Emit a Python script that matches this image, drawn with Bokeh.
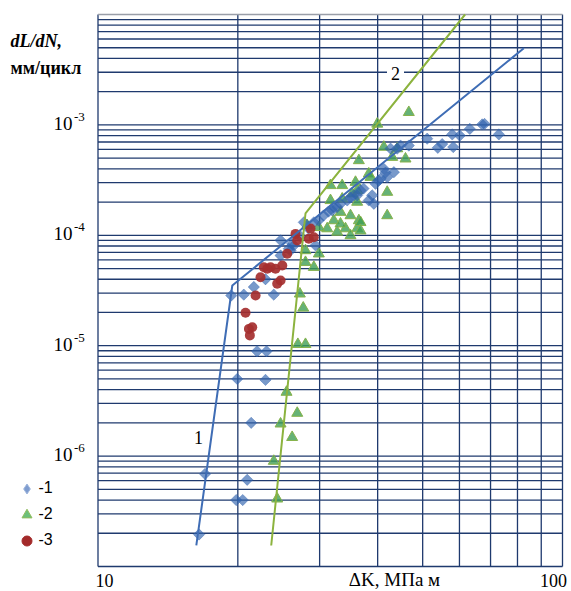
import math
from bokeh.plotting import figure
from bokeh.models import Label, Legend, LegendItem, Range1d
from bokeh.embed import file_html
from bokeh.resources import INLINE

# ---------------- data ----------------
# series 1 (diamonds): dK [MPa m^0.5], crack growth rate [mm/cycle]
s1_dk = [16.5, 17.0, 20.95, 19.84, 20.49, 21.37, 19.94, 22.94, 22.0, 23.06,
         19.36, 20.6, 23.9, 22.94, 21.65, 24.72, 27.74, 29.4, 25.75, 26.18,
         29.15, 31.93, 32.73, 32.18, 33.27, 34.4, 35.54, 36.74, 38.28, 39.58,
         40.57, 41.24, 42.64, 43.35, 41.94, 44.8, 46.68, 39.25, 44.08, 51.13,
         53.89, 55.08, 57.89, 58.18, 60.11, 63.16, 67.16, 67.94, 72.94, 24.72,
         25.97, 26.41, 27.29, 28.40, 29.84, 30.59, 31.35, 34.96, 36.14, 37.29,
         38.93, 40.17, 41.59]
s1_rate = [1.95e-7, 6.9e-7, 6.1e-7, 4.0e-7, 4.0e-7, 2.0e-6, 5.0e-6, 4.9e-6, 8.9e-6, 8.9e-6,
           2.85e-5, 2.9e-5, 2.9e-5, 4.0e-5, 3.4e-5, 9.0e-5, 1.31e-4, 8.1e-5, 7.55e-5, 8.4e-5,
           1.31e-4, 1.68e-4, 1.8e-4, 1.8e-4, 1.93e-4, 2.07e-4, 2.3e-4, 2.55e-4, 2.07e-4, 2.93e-4,
           3.25e-4, 4.0e-4, 6.1e-4, 3.73e-4, 3.36e-4, 6.5e-4, 6.5e-4, 1.93e-4, 6.1e-4, 7.5e-4,
           6.2e-4, 6.7e-4, 8.2e-4, 6.3e-4, 8.0e-4, 9.2e-4, 1.01e-3, 1.02e-3, 8.2e-4, 6.56e-5,
           7.28e-5, 8.09e-5, 9.75e-5, 1.15e-4, 1.36e-4, 1.51e-4, 1.64e-4, 2.2e-4, 2.3e-4, 2.65e-4,
           2.3e-4, 3.13e-4, 3.7e-4]

# series 2 (triangles)
s2_dk = [24.31, 23.9, 24.72, 26.18, 26.85, 25.46, 26.93, 27.97, 27.2, 27.66,
         27.97, 27.97, 29.15, 29.88, 31.15, 32.73, 34.1, 34.96, 36.44, 36.14,
         32.18, 33.27, 31.66, 31.66, 33.55, 35.26, 36.14, 36.44, 38.28, 33.27,
         34.96, 46.68, 39.92, 41.24, 45.92, 35.84, 38.61, 41.94, 41.94, 44.08,
         42.99, 36.74, 36.74, 36.14, 33.55, 29.88, 28.2]
s2_rate = [4.1e-7, 9.0e-7, 1.96e-6, 1.48e-6, 2.45e-6, 3.8e-6, 1.03e-5, 1.03e-5, 2.95e-5, 2.2e-5,
           7.28e-5, 5.7e-5, 5.14e-5, 6.8e-5, 1.15e-4, 1.07e-4, 1.15e-4, 9.95e-5, 1.36e-4, 1.15e-4,
           1.36e-4, 1.27e-4, 2.07e-4, 2.83e-4, 2.83e-4, 2.38e-4, 2.55e-4, 4.76e-4, 3.61e-4, 1.62e-4,
           1.51e-4, 1.3e-3, 1.02e-3, 6.3e-4, 4.93e-4, 3.03e-4, 3.36e-4, 2.46e-4, 1.51e-4, 6.1e-4,
           5.1e-4, 1.31e-4, 1.1e-4, 2.0e-4, 2.14e-4, 1.18e-4, 1.23e-4]

# series 3 (circles)
s3_dk = [21.84, 20.78, 21.13, 21.48, 21.23, 22.38, 22.75, 23.52, 24.11, 24.93,
         24.72, 24.31, 25.54, 26.85, 26.62, 28.68, 29.15, 28.43, 23.14]
s3_rate = [2.85e-5, 1.99e-5, 1.42e-5, 1.47e-5, 1.24e-5, 4.17e-5, 5.14e-5, 5.14e-5, 4.97e-5, 5.33e-5,
           3.9e-5, 3.64e-5, 6.8e-5, 8.97e-5, 1.03e-4, 1.15e-4, 9.6e-5, 9.3e-5, 4.97e-5]

# fitted curves 1 and 2 (break points)
fit1_dk = [16.28, 19.46, 82.55]
fit1_rate = [1.55e-7, 3.51e-5, 4.95e-3]
fit2_dk = [23.6, 27.97, 61.7]
fit2_rate = [1.55e-7, 1.576e-4, 1.0e-2]

curve_labels = ["1", "2"]
curve_label_dk = [16.46, 43.7]
curve_label_rate = [1.47e-6, 2.94e-3]

legend_labels = ["-1", "-2", "-3"]

x_min, x_max = 10, 100            # plot-area limits
y_min, y_max = 1e-7, 1e-2
x_tick_vals = [10, 100]
x_tick_text = ["10", "100"]
y_tick_vals = [1e-3, 1e-4, 1e-5, 1e-6]
y_tick_base = ["10", "10", "10", "10"]
y_tick_exp = ["-3", "-4", "-5", "-6"]

x_title = "\u0394K, \u041c\u041f\u0430 \u043c"
y_title_1 = "dL/dN,"
y_title_2 = "\u043c\u043c/\u0446\u0438\u043a\u043b"

# ---------------- layout geometry (pixels) ----------------
W, H = 571, 591
PA_LEFT, PA_RIGHT, PA_TOP, PA_BOTTOM = 97.5, 562.0, 14.0, 566.0
GRID = "#1F3A6E"
SERIF = "Liberation Serif"

lx0, lx1 = math.log10(x_min), math.log10(x_max)
ly0, ly1 = math.log10(y_min), math.log10(y_max)
ppd_x = (PA_RIGHT - PA_LEFT) / (lx1 - lx0)
ppd_y = (PA_BOTTOM - PA_TOP) / (ly1 - ly0)
xr = Range1d(10 ** (lx0 - PA_LEFT / ppd_x), 10 ** (lx1 + (W - PA_RIGHT) / ppd_x))
yr = Range1d(10 ** (ly0 - (H - PA_BOTTOM) / ppd_y), 10 ** (ly1 + PA_TOP / ppd_y))

p = figure(width=W, height=H, x_axis_type="log", y_axis_type="log",
           x_range=xr, y_range=yr, output_backend="svg", toolbar_location=None,
           min_border=0, min_border_left=0, min_border_right=0,
           min_border_top=0, min_border_bottom=0)
p.axis.visible = False
p.grid.visible = False
p.outline_line_color = None
p.background_fill_color = "white"
p.border_fill_color = "white"

# grid of the plot area (every 1..9 x decade)
xgrid_ticks = [m * 10 for m in range(1, 10)] + [100]
ygrid_ticks = [m * 10.0 ** e for e in range(-7, -2) for m in range(1, 10)]
p.segment(x0=xgrid_ticks, y0=[y_min] * len(xgrid_ticks), x1=xgrid_ticks, y1=[y_max] * len(xgrid_ticks),
          line_color=GRID, line_width=1.3)
p.segment(x0=[x_min] * len(ygrid_ticks), y0=ygrid_ticks, x1=[x_max] * len(ygrid_ticks), y1=ygrid_ticks,
          line_color=GRID, line_width=1.3)
p.segment(x0=[x_min], y0=[y_max], x1=[x_max], y1=[y_max], line_color="#9A9EA8", line_width=1.3)

# markers
p.scatter(s2_dk, s2_rate, marker="triangle", size=11,
          fill_color="#3E9F55", fill_alpha=0.8, line_color="#86B24A", line_width=1)
p.scatter(s1_dk, s1_rate, marker="square", angle=math.pi / 4, size=8,
          fill_color="#2F62AE", fill_alpha=0.65, line_color="#2F62AE", line_alpha=0.4)
p.scatter(s3_dk, s3_rate, marker="circle", size=10,
          fill_color="#A52F2F", fill_alpha=0.92, line_color=None)

# fitted lines
p.line(fit1_dk, fit1_rate, line_color="#3F6DB5", line_width=2)
p.line(fit2_dk, fit2_rate, line_color="#8CB33E", line_width=2)

# legend swatch renderers (hidden in the plot, only their legend swatch is shown)
lg1 = p.scatter(s1_dk, s1_rate, marker="diamond", visible=False,
                fill_color="#7E9CCF", line_color="#9FB6DD", line_width=1)
lg2 = p.scatter(s2_dk, s2_rate, marker="triangle", visible=False,
                fill_color="#6CC07A", line_color="#93BD5C", line_width=1)
lg3 = p.scatter(s3_dk, s3_rate, marker="circle", visible=False,
                fill_color="#A32A2A", line_color="#A32A2A", line_width=1)

# curve labels
p.add_layout(Label(x=curve_label_dk[0], y=curve_label_rate[0], text=curve_labels[0],
                   text_align="center", text_baseline="middle",
                   text_font=SERIF, text_font_size="18px", text_color="black"))
p.add_layout(Label(x=curve_label_dk[1], y=curve_label_rate[1], text=curve_labels[1],
                   text_align="center", text_baseline="middle",
                   text_font=SERIF, text_font_size="18px", text_color="black",
                   background_fill_color="white", padding=4))

# y tick labels (10 with superscript exponent)
for v, b, e in zip(y_tick_vals, y_tick_base, y_tick_exp):
    p.add_layout(Label(x=72, x_units="screen", y=v, y_units="data", text=b,
                       text_align="right", text_baseline="middle", y_offset=1.5,
                       text_font=SERIF, text_font_size="19px", text_color="black"))
    p.add_layout(Label(x=73.5, x_units="screen", y=v, y_units="data", text=e,
                       text_align="left", text_baseline="middle", y_offset=8,
                       text_font=SERIF, text_font_size="13px", text_color="black"))

# x tick labels
for v, t, off, yy in zip(x_tick_vals, x_tick_text, [6.5, -9], [11, 11]):
    p.add_layout(Label(x=v, x_units="data", y=yy, y_units="screen", text=t,
                       text_align="center", text_baseline="middle", x_offset=off,
                       text_font=SERIF, text_font_size="18px", text_color="black"))

# axis titles
p.add_layout(Label(x=394, x_units="screen", y=12, y_units="screen", text=x_title,
                   text_align="center", text_baseline="middle",
                   text_font=SERIF, text_font_size="19px", text_color="black"))
p.add_layout(Label(x=10, x_units="screen", y=551, y_units="screen", text=y_title_1,
                   text_align="left", text_baseline="middle",
                   text_font=SERIF, text_font_size="18px", text_font_style="bold italic",
                   text_color="black"))
p.add_layout(Label(x=10, x_units="screen", y=524, y_units="screen", text=y_title_2,
                   text_align="left", text_baseline="middle",
                   text_font=SERIF, text_font_size="18px", text_font_style="bold",
                   text_color="black"))

# legend
legend = Legend(items=[LegendItem(label=legend_labels[0], renderers=[lg1]),
                       LegendItem(label=legend_labels[1], renderers=[lg2]),
                       LegendItem(label=legend_labels[2], renderers=[lg3])],
                location=(13.5, 38.5), orientation="vertical",
                glyph_width=25, glyph_height=25, label_height=18, spacing=1,
                padding=0, margin=0, label_standoff=0,
                border_line_color=None, background_fill_alpha=0,
                inactive_fill_alpha=0,
                label_text_font="Liberation Sans", label_text_font_size="16px",
                label_text_color="black")
p.add_layout(legend)

open("out.html", "w").write(file_html(p, INLINE))
